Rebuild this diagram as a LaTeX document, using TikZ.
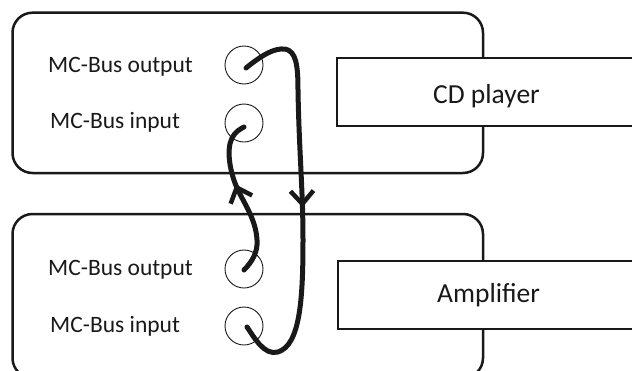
\documentclass[tikz,border=0pt]{standalone}
\usepackage{fontspec}
\setmainfont{Carlito}
\usetikzlibrary{arrows.meta,decorations.markings}
\tikzset{
  devbox/.style={draw=black!90, line width=2.5pt, rounded corners=20pt, inner sep=0pt},
  unitbox/.style={draw=black!90, line width=2.5pt, fill=white, inner sep=0pt},
  jack/.style={draw=black!90, circle, line width=0.9pt, minimum size=38pt, inner sep=0pt},
  lbl/.style={anchor=base west, inner sep=0pt, font=\fontsize{23.5pt}{28pt}\selectfont, text=black!90},
  ulbl/.style={anchor=base west, inner sep=0pt, font=\fontsize{27.5pt}{32pt}\selectfont, text=black!90},
  cable/.style={draw=black!90, line width=5pt, line cap=round},
  midarrow/.style={postaction={decorate}, decoration={markings, mark=at position #1 with {\arrow{Straight Barb[length=13pt,width=23pt,line width=4.5pt]}}}}
}
\begin{document}
\begin{tikzpicture}[x=1pt,y=-1pt]
\useasboundingbox (0,0) rectangle (632,370);
\clip (0,0) rectangle (632,370);
% device housings
\node[devbox, minimum width=470.5pt, minimum height=160.3pt] (topbox) at (247.75,92.85) {};
\node[devbox, minimum width=470.5pt, minimum height=164pt] (botbox) at (247.75,296) {};
% unit labels
\node[unitbox, minimum width=320pt, minimum height=68pt] (cdrect) at (497,92) {};
\node[unitbox, minimum width=320pt, minimum height=68pt] (amprect) at (498,295) {};
\node[ulbl] (cdlbl) at (433,103) {CD player};
\node[ulbl] (amplbl) at (437,302) {Amplifier};
% jacks
\node[jack] (outT) at (244,65) {};
\node[jack] (inT) at (244,123) {};
\node[jack] (outB) at (244,269) {};
\node[jack] (inB) at (244,326) {};
% jack labels
\node[lbl] (loT) at (48,72) {MC-Bus output};
\node[lbl] (liT) at (50,128) {MC-Bus input};
\node[lbl] (loB) at (48,275) {MC-Bus output};
\node[lbl] (liB) at (50,332) {MC-Bus input};
% cables
\draw[cable, midarrow=208pt] ([shift={(2,3)}]outT.center) .. controls (262,55) and (274,48) .. (285,49)
  .. controls (296,51) and (298,65) .. (298,90)
  .. controls (299,150) and (303,190) .. (303,240)
  .. controls (303,300) and (300,345) .. (278,352)
  .. controls (264,356) and (254,337) .. ([shift={(3,1)}]inB.center);
\draw[cable, midarrow=94pt] ([shift={(0,1)}]outB.center) .. controls (252,262) and (258,252) .. (257,240)
  .. controls (256,220) and (245,205) .. (237,188)
  .. controls (230,172) and (226,150) .. (232,138)
  .. controls (235,132) and (240,129) .. ([shift={(0,4)}]inT.center);
\end{tikzpicture}
\end{document}
